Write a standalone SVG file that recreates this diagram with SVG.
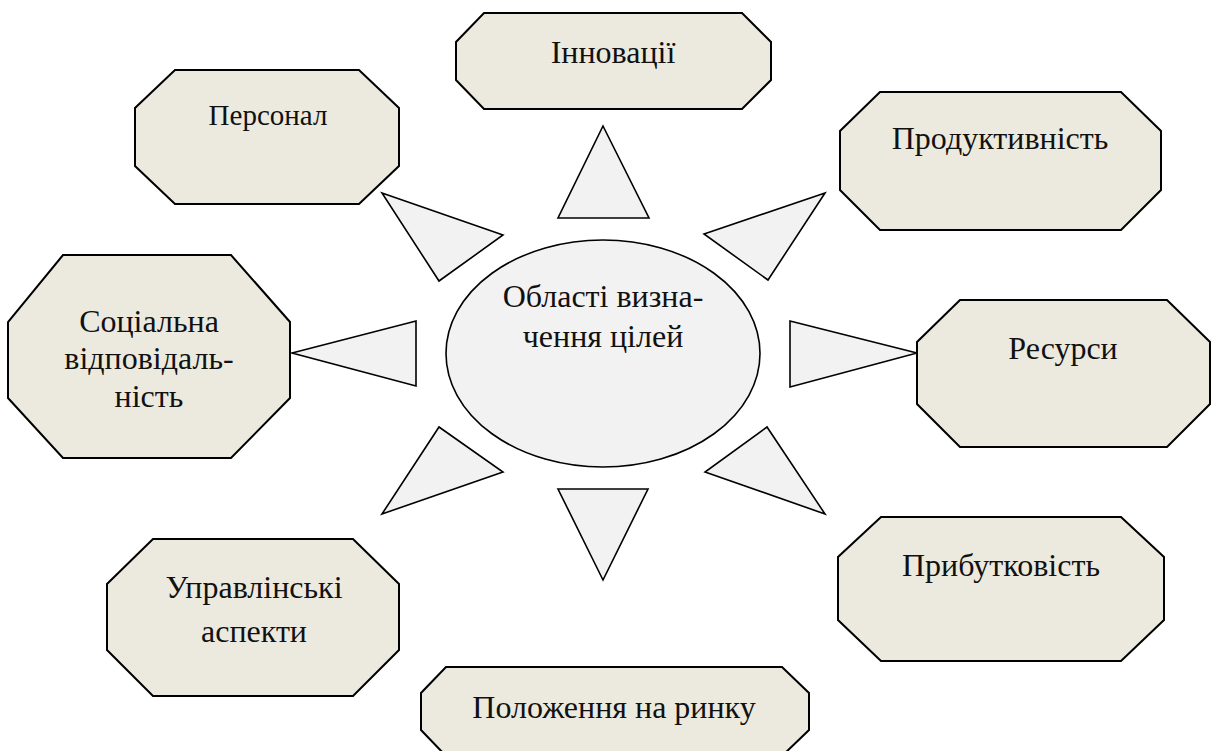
<svg xmlns="http://www.w3.org/2000/svg" width="1211" height="751" viewBox="0 0 1211 751">
<style>
.box{fill:#ECEADF;stroke:#000;stroke-width:2;stroke-linejoin:miter}
.ray{fill:#F2F2F2;stroke:#000;stroke-width:1.6;stroke-linejoin:miter}
.core{fill:#F2F2F2;stroke:#000;stroke-width:1.6}
text{font-family:"Liberation Serif","Times New Roman","DejaVu Serif",serif;font-size:32px;fill:#111;text-anchor:middle}
</style>
<rect width="1211" height="751" fill="#fff"/>
<g id="connectors">
<polygon class="ray" points="603,126 649,218 558,218"/>
<polygon class="ray" points="825,193 768,280 704,234"/>
<polygon class="ray" points="917,353 790,387 790,321"/>
<polygon class="ray" points="825,514 705,472 767,427"/>
<polygon class="ray" points="603,580 558,489 648,489"/>
<polygon class="ray" points="382,514 439,427 503,472"/>
<polygon class="ray" points="292,353 416,321 416,386"/>
<polygon class="ray" points="382,193 503,235 439,281"/>
</g>
<g id="center">
<ellipse class="core" cx="603" cy="353.5" rx="157" ry="113.5"/>
<text x="603" y="307">Області визна-</text>
<text x="603" y="347">чення цілей</text>
</g>
<g id="innovations">
<polygon class="box" points="484,13 742,13 771,42 771,80 742,109 484,109 456,80 456,42"/>
<text x="613" y="63">Інновації</text>
</g>
<g id="personnel">
<polygon class="box" points="175,70 359,70 399,108 399,166 359,204 175,204 135,166 135,108"/>
<text x="268" y="125" style="font-size:29px">Персонал</text>
</g>
<g id="productivity">
<polygon class="box" points="880,92 1121,92 1161,131 1161,190 1121,230 880,230 840,190 840,131"/>
<text x="1000" y="149">Продуктивність</text>
</g>
<g id="resources">
<polygon class="box" points="960,300 1167,300 1210,342 1210,404 1167,447 960,447 917,404 917,342"/>
<text x="1063" y="359">Ресурси</text>
</g>
<g id="social">
<polygon class="box" points="63,255 231,255 290,322 290,398 231,458 63,458 8,398 8,322"/>
<text x="149" y="332">Соціальна</text>
<text x="149" y="369">відповідаль-</text>
<text x="149" y="407">ність</text>
</g>
<g id="management">
<polygon class="box" points="153,539 353,539 399,584 399,650 353,696 153,696 107,650 107,584"/>
<text x="254" y="598">Управлінські</text>
<text x="254" y="642">аспекти</text>
</g>
<g id="profitability">
<polygon class="box" points="881,517 1121,517 1164,557 1164,620 1121,661 881,661 838,620 838,557"/>
<text x="1001" y="576">Прибутковість</text>
</g>
<g id="market">
<polygon class="box" points="446,667 782,667 809,693 809,730 782,756 446,756 421,730 421,693"/>
<text x="614" y="718">Положення на ринку</text>
</g>
</svg>
